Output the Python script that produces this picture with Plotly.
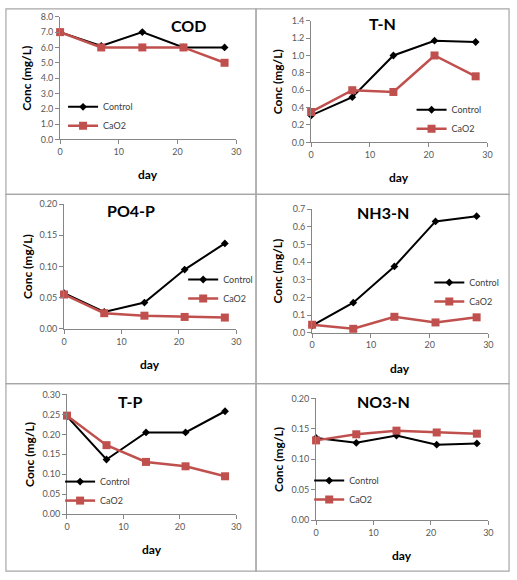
import plotly.graph_objects as go

days = [0, 7, 14, 21, 28]
panel_names = ["COD", "T-N", "PO4-P", "NH3-N", "T-P", "NO3-N"]
series_names = ["Control", "CaO2"]

cod_control = [7.0, 6.1, 7.0, 6.0, 6.0]
cod_cao2 = [7.0, 6.0, 6.0, 6.0, 5.0]
tn_control = [0.31, 0.52, 1.0, 1.17, 1.155]
tn_cao2 = [0.35, 0.60, 0.58, 1.0, 0.76]
po4_control = [0.057, 0.027, 0.042, 0.095, 0.137]
po4_cao2 = [0.055, 0.025, 0.021, 0.019, 0.018]
nh3_control = [0.04, 0.17, 0.375, 0.63, 0.66]
nh3_cao2 = [0.045, 0.022, 0.09, 0.058, 0.087]
tp_control = [0.245, 0.137, 0.205, 0.205, 0.258]
tp_cao2 = [0.247, 0.173, 0.131, 0.120, 0.095]
no3_control = [0.135, 0.127, 0.139, 0.124, 0.126]
no3_cao2 = [0.131, 0.141, 0.147, 0.144, 0.142]

y_max = [8.0, 1.4, 0.20, 0.7, 0.30, 0.20]
y_dtick = [1.0, 0.2, 0.05, 0.1, 0.05, 0.05]
y_fmt = [".1f", ".1f", ".2f", ".1f", ".2f", ".2f"]

controls = [cod_control, tn_control, po4_control, nh3_control, tp_control, no3_control]
cao2s = [cod_cao2, tn_cao2, po4_cao2, nh3_cao2, tp_cao2, no3_cao2]

W, H = 517, 580
# plot areas in pixels: (x0, x1, ytop, ybottom)
areas = [
    (58, 237, 11, 136),
    (313, 492, 15, 139),
    (62, 237, 202, 329),
    (314, 493, 207, 333),
    (65, 237, 396, 518),
    (318, 493, 400, 524),
]
# legend: (text start x, first row center y)
legend_pos = [(98, 105), (452, 108), (220, 281), (470, 284), (95, 487), (348, 486)]
title_pos = [(188, 20), (385, 18), (130, 208), (386, 210), (130, 403), (386, 403)]
ylab_x = [23, 279, 25, 279, 27, 280]
panels_px = [(3, 257, 3, 192), (257, 514, 3, 192), (3, 257, 192, 385),
             (257, 514, 192, 385), (3, 257, 385, 576), (257, 514, 385, 576)]

FONT = "Lato, 'Open Sans', sans-serif"
fig = go.Figure()
layout = dict(width=W, height=H, margin=dict(l=0, r=0, t=0, b=0),
              paper_bgcolor="white", plot_bgcolor="white", showlegend=True,
              font=dict(family=FONT, color="#404040"))
annotations = []
shapes = []

for i in range(6):
    n = "" if i == 0 else str(i + 1)
    xa, ya = "x" + n, "y" + n
    lg = "legend" + n
    fig.add_trace(go.Scatter(x=days, y=controls[i], name=series_names[0], mode="lines+markers",
                             line=dict(color="black", width=2),
                             marker=dict(symbol="diamond", size=6, color="black"),
                             xaxis=xa, yaxis=ya, legend=lg, cliponaxis=False))
    fig.add_trace(go.Scatter(x=days, y=cao2s[i], name=series_names[1], mode="lines+markers",
                             line=dict(color="#C0504D", width=2.5),
                             marker=dict(symbol="square", size=8, color="#C0504D"),
                             xaxis=xa, yaxis=ya, legend=lg, cliponaxis=False))
    x0, x1, yt, yb = areas[i]
    axcommon = dict(showgrid=False, zeroline=False, showline=True, linecolor="#868686",
                    linewidth=1, ticks="outside", ticklen=4, tickcolor="#868686",
                    tickfont=dict(size=9, color="#595959", family=FONT))
    layout["xaxis" + n] = dict(axcommon, domain=[x0 / W, x1 / W], range=[0, 30], dtick=10,
                               anchor=ya)
    layout["yaxis" + n] = dict(axcommon, domain=[1 - yb / H, 1 - yt / H], range=[0, y_max[i]],
                               dtick=y_dtick[i], tickformat=y_fmt[i], anchor=xa)
    lx, ly = legend_pos[i]
    layout[lg] = dict(x=(lx - 37) / W, y=1 - (ly - 17) / H, xanchor="left", yanchor="top",
                      bgcolor="rgba(0,0,0,0)", font=dict(size=9, color="#404040", family=FONT),
                      itemwidth=30, tracegroupgap=0)
    tx, ty = title_pos[i]
    annotations.append(dict(text="<b>" + panel_names[i] + "</b>", x=tx / W, y=1 - ty / H,
                            xref="paper", yref="paper", showarrow=False,
                            xanchor="center", yanchor="middle",
                            font=dict(size=16, color="black", family=FONT)))
    annotations.append(dict(text="<b>Conc (mg/L)</b>", x=ylab_x[i] / W, y=1 - (yt + yb) / 2 / H,
                            xref="paper", yref="paper", showarrow=False, textangle=-90,
                            xanchor="center", yanchor="middle",
                            font=dict(size=12, color="black", family=FONT)))
    annotations.append(dict(text="<b>day</b>", x=(x0 + x1) / 2 / W, y=1 - (yb + 36) / H,
                            xref="paper", yref="paper", showarrow=False,
                            xanchor="center", yanchor="middle",
                            font=dict(size=12, color="black", family=FONT)))
    px0, px1, py0, py1 = panels_px[i]
    shapes.append(dict(type="rect", xref="paper", yref="paper", x0=px0 / W, x1=px1 / W,
                       y0=1 - py1 / H, y1=1 - py0 / H, line=dict(color="#A6A6A6", width=1.2)))

layout["annotations"] = annotations
layout["shapes"] = shapes
fig.update_layout(**layout)
fig.write_html("out.html")
